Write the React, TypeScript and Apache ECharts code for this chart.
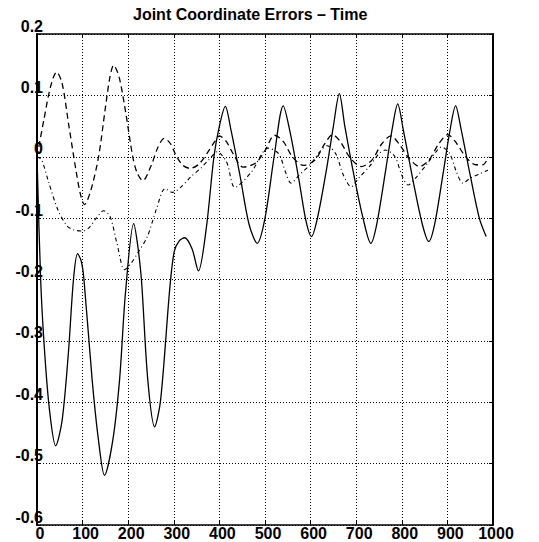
import React, { useEffect, useRef } from "react";
import * as echarts from "echarts";

const titleText = "Joint Coordinate Errors \u2013 Time";

// Solid line
const solidT = [0, 8, 16, 27, 41, 55, 69, 80, 89, 97, 103, 121, 135, 148, 166, 181, 194, 212, 220, 229, 243, 258, 271, 291, 301, 312, 324, 340, 354, 371, 388, 400, 413, 425, 445, 465, 483, 500, 520, 540, 555, 575, 590, 602, 615, 635, 650, 663, 675, 695, 715, 732, 745, 765, 780, 791, 803, 825, 845, 859, 872, 890, 905, 918, 930, 950, 970, 985];
const solidV = [0, -0.2, -0.31, -0.41, -0.471, -0.43, -0.318, -0.2, -0.158, -0.17, -0.2, -0.364, -0.463, -0.519, -0.463, -0.364, -0.222, -0.109, -0.14, -0.2, -0.364, -0.44, -0.397, -0.216, -0.154, -0.137, -0.132, -0.15, -0.186, -0.118, 0, 0.05, 0.082, 0.045, -0.03, -0.11, -0.141, -0.1, 0, 0.083, 0.04, -0.04, -0.105, -0.13, -0.1, -0.02, 0.05, 0.103, 0.05, -0.03, -0.1, -0.141, -0.11, -0.02, 0.05, 0.086, 0.045, -0.04, -0.11, -0.138, -0.11, -0.03, 0.04, 0.083, 0.045, -0.03, -0.1, -0.13];

// Dashed line
const dashT = [0, 15, 30, 43, 55, 70, 85, 95, 104, 118, 135, 150, 160, 168, 180, 195, 210, 220, 232, 250, 265, 279, 292, 305, 320, 336, 355, 375, 390, 400, 415, 430, 452, 480, 500, 521, 540, 560, 584, 610, 630, 648, 665, 685, 711, 735, 755, 776, 795, 815, 839, 860, 880, 901, 920, 940, 962, 978, 990];
const dashV = [0, 0.06, 0.115, 0.138, 0.12, 0.05, -0.02, -0.06, -0.078, -0.055, 0, 0.08, 0.13, 0.149, 0.13, 0.07, 0, -0.027, -0.039, -0.015, 0.015, 0.03, 0.022, 0.002, -0.014, -0.019, -0.012, 0.008, 0.025, 0.034, 0.025, 0.005, -0.017, -0.01, 0.01, 0.035, 0.025, 0, -0.014, -0.005, 0.02, 0.036, 0.025, 0, -0.016, -0.005, 0.02, 0.034, 0.02, -0.002, -0.016, -0.005, 0.02, 0.036, 0.022, 0, -0.013, -0.013, 0];

// Dash-dot line
const dotT = [0, 10, 25, 45, 65, 80, 100, 115, 130, 146, 160, 175, 192, 205, 220, 242, 262, 281, 297, 315, 337, 360, 378, 395, 416, 434, 469, 507, 530, 545, 557, 575, 600, 620, 636, 655, 672, 689, 705, 730, 750, 764, 785, 800, 814, 830, 855, 875, 887, 905, 920, 934, 950, 970, 989];
const dotV = [0, -0.005, -0.04, -0.085, -0.112, -0.119, -0.121, -0.115, -0.1, -0.088, -0.097, -0.14, -0.184, -0.175, -0.158, -0.13, -0.085, -0.052, -0.058, -0.05, -0.033, -0.018, -0.004, 0.008, -0.009, -0.05, -0.026, 0.014, 0.005, -0.025, -0.043, -0.03, -0.012, 0.008, 0.018, 0.005, -0.03, -0.049, -0.035, -0.015, 0.005, 0.011, 0, -0.03, -0.046, -0.035, -0.012, 0.008, 0.016, 0.005, -0.025, -0.043, -0.035, -0.028, -0.022];

const pairs = (t: number[], v: number[]) => t.map((x, i) => [x, v[i]]);

const FONT = "Liberation Sans, Arial, sans-serif";

export default function App() {
  const ref = useRef<HTMLDivElement>(null);
  useEffect(() => {
    if (!ref.current) return;
    const chart = echarts.init(ref.current, undefined, { renderer: "svg" });
    const lineBase = { type: "line", showSymbol: false, smooth: 0.3, silent: true };
    chart.setOption({
      animation: false,
      backgroundColor: "#ffffff",
      title: {
        text: titleText,
        left: 128,
        top: 1,
        textStyle: { fontFamily: FONT, fontWeight: "bold", fontSize: 16, color: "#000" },
      },
      grid: { left: 37, right: 46, top: 34, bottom: 17, show: false },
      xAxis: [
        {
          type: "value",
          min: 0,
          max: 1000,
          interval: 100,
          axisLine: { show: true, onZero: false, lineStyle: { color: "#000", width: 1.5 } },
          axisTick: { show: true, inside: true, length: 4, lineStyle: { color: "#000" } },
          splitLine: { show: true, lineStyle: { color: "#000", type: [1, 2], width: 1 } },
          axisLabel: {
            margin: 1,
            fontFamily: FONT,
            fontWeight: "bold",
            fontSize: 16,
            color: "#000",
            padding: [0, 0, 0, 6],
            lineHeight: 14,
            formatter: (v: number) => String(Math.round(v)),
            showMaxLabel: true,
            showMinLabel: true,
          },
        },
        {
          type: "value",
          position: "top",
          min: 0,
          max: 1000,
          interval: 100,
          axisLine: { show: true, onZero: false, lineStyle: { color: "#000", width: 1.5 } },
          axisTick: { show: true, inside: true, length: 4, lineStyle: { color: "#000" } },
          splitLine: { show: false },
          axisLabel: { show: false },
        },
      ],
      yAxis: [
        {
          type: "value",
          min: -0.6,
          max: 0.2,
          interval: 0.1,
          axisLine: { show: true, onZero: false, lineStyle: { color: "#000", width: 2 } },
          axisTick: { show: true, inside: true, length: 4, lineStyle: { color: "#000" } },
          splitLine: { show: true, lineStyle: { color: "#000", type: [1, 2], width: 1 } },
          axisLabel: {
            margin: -6,
            fontFamily: FONT,
            fontWeight: "bold",
            fontSize: 16,
            color: "#000",
            verticalAlign: "bottom",
            lineHeight: 12,
            padding: [0, 0, 2, 0],
            formatter: (v: number) => String(Math.round(v * 10) / 10),
            showMaxLabel: true,
            showMinLabel: true,
          },
        },
        {
          type: "value",
          position: "right",
          min: -0.6,
          max: 0.2,
          interval: 0.1,
          axisLine: { show: true, onZero: false, lineStyle: { color: "#000", width: 2 } },
          axisTick: { show: true, inside: true, length: 4, lineStyle: { color: "#000" } },
          splitLine: { show: false },
          axisLabel: { show: false },
        },
      ],
      series: [
        { ...lineBase, name: "solid", data: pairs(solidT, solidV), lineStyle: { color: "#000", width: 1.3, type: "solid" } },
        { ...lineBase, name: "dashed", data: pairs(dashT, dashV), lineStyle: { color: "#000", width: 1.3, type: [6, 4] } },
        { ...lineBase, name: "dashdot", data: pairs(dotT, dotV), lineStyle: { color: "#000", width: 1.1, type: [4, 3, 1, 3] } },
      ],
    });
    return () => chart.dispose();
  }, []);
  return (
    <div
      ref={ref}
      style={{ position: "fixed", left: 0, top: 0, width: 539, height: 542, background: "#fff" }}
    />
  );
}
